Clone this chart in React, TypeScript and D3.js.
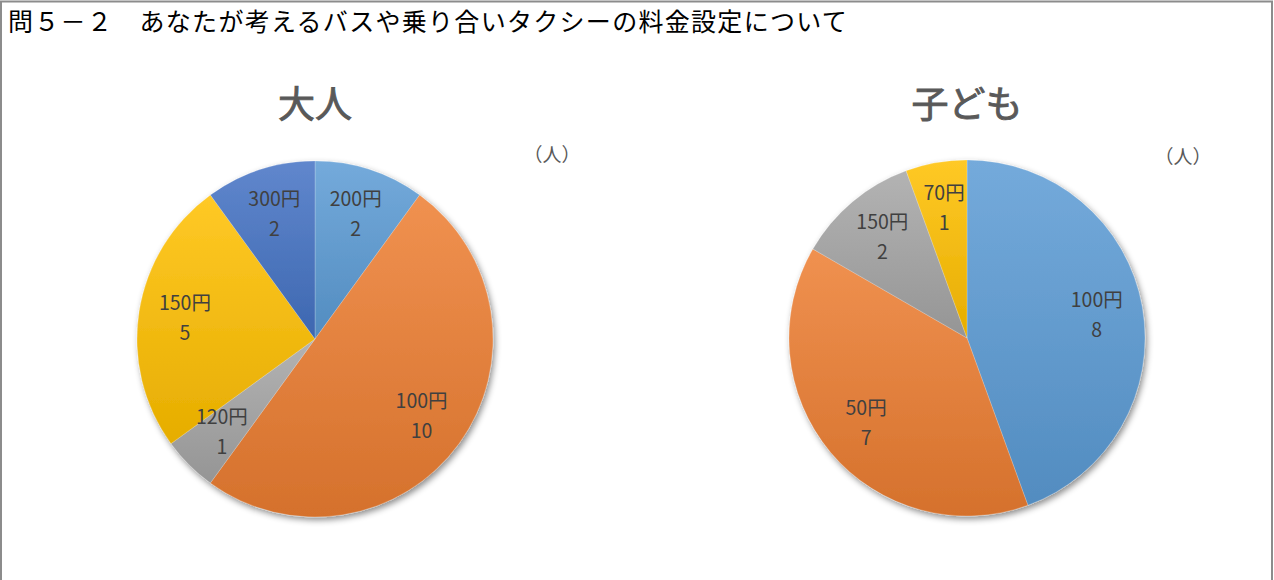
import React, { useEffect, useRef } from 'react';
import * as d3 from 'd3';

const pageTitle = '問５－２　あなたが考えるバスや乗り合いタクシーの料金設定について';

// 大人
const adultLabels = ['200円', '100円', '120円', '150円', '300円'];
const adultValues = [2, 10, 1, 5, 2];
const adultColors = ['#5B9BD5', '#ED7D31', '#A5A5A5', '#FFC000', '#4472C4'];

// 子ども
const childLabels = ['100円', '50円', '150円', '70円'];
const childValues = [8, 7, 2, 1];
const childColors = ['#5B9BD5', '#ED7D31', '#A5A5A5', '#FFC000'];

const width = 1274;
const height = 580;
const font = '"Noto Sans CJK JP", "Noto Sans", sans-serif';

const App = () => {
  const ref = useRef<SVGSVGElement>(null);

  useEffect(() => {
    const svg = d3.select(ref.current);
    svg.selectAll('*').remove();

    const defs = svg.append('defs');
    const shadow = defs.append('filter').attr('id', 'shadow')
      .attr('x', '-10%').attr('y', '-10%').attr('width', '120%').attr('height', '125%');
    shadow.append('feDropShadow')
      .attr('dx', 2).attr('dy', 3).attr('stdDeviation', 3)
      .attr('flood-color', '#000').attr('flood-opacity', 0.45);

    // frame
    svg.append('rect')
      .attr('x', 1).attr('y', 1.5)
      .attr('width', 1271).attr('height', 600)
      .attr('fill', 'white').attr('stroke', '#8c8c8c').attr('stroke-width', 2);

    svg.append('text')
      .attr('x', 8).attr('y', 31)
      .attr('font-family', font).attr('font-size', 25)
      .attr('letter-spacing', 1.3)
      .attr('fill', '#000')
      .text(pageTitle);

    const drawPie = (id: string, title: string, labels: string[], values: number[], colors: string[], cx: number, cy: number, unitX: number, unitY: number) => {
      const r = 178;
      const g = svg.append('g').attr('transform', `translate(${cx},${cy})`);

      svg.append('text')
        .attr('x', cx).attr('y', 118)
        .attr('text-anchor', 'middle')
        .attr('font-family', font).attr('font-size', 37)
        .attr('fill', '#595959')
        .attr('stroke', '#595959').attr('stroke-width', 0.9)
        .text(title);

      svg.append('text')
        .attr('x', unitX).attr('y', unitY)
        .attr('text-anchor', 'middle')
        .attr('font-family', font).attr('font-size', 19)
        .attr('fill', '#595959')
        .text('（人）');

      colors.forEach((c, i) => {
        const grad = defs.append('linearGradient').attr('id', `${id}-g${i}`)
          .attr('x1', 0).attr('y1', 0).attr('x2', 0).attr('y2', 1);
        grad.append('stop').attr('offset', '0%').attr('stop-color', d3.interpolateRgb(c, '#fff')(0.15));
        grad.append('stop').attr('offset', '100%').attr('stop-color', d3.interpolateRgb(c, '#000')(0.1));
      });

      const pie = d3.pie<number>().sort(null).value(d => d);
      const arcs = pie(values);
      const arc = d3.arc<d3.PieArcDatum<number>>().innerRadius(0).outerRadius(r);
      const labelArc = d3.arc<d3.PieArcDatum<number>>().innerRadius(r * 0.74).outerRadius(r * 0.74);

      const slices = g.append('g').attr('filter', 'url(#shadow)');
      slices.selectAll('path')
        .data(arcs)
        .enter()
        .append('path')
        .attr('d', arc)
        .attr('fill', (d, i) => `url(#${id}-g${i})`)
        .attr('stroke', 'rgba(255,255,255,0.35)')
        .attr('stroke-width', 0.6);

      const lbl = g.selectAll('text.lbl')
        .data(arcs)
        .enter()
        .append('text')
        .attr('class', 'lbl')
        .attr('transform', d => `translate(${labelArc.centroid(d)})`)
        .attr('text-anchor', 'middle')
        .attr('font-family', font).attr('font-size', 19.5)
        .attr('fill', '#404040');
      lbl.append('tspan').attr('x', 0).attr('y', -8).text((d, i) => labels[i]);
      lbl.append('tspan').attr('x', 0).attr('y', 22).text(d => String(d.data));
    };

    drawPie('adult', '大人', adultLabels, adultValues, adultColors, 315, 339, 552, 162);
    drawPie('child', '子ども', childLabels, childValues, childColors, 967, 338, 1183, 164);
  }, []);

  return (
    <svg ref={ref} width={width} height={height}
      style={{ position: 'absolute', left: 0, top: 0, background: 'white' }} />
  );
};

export default App;
